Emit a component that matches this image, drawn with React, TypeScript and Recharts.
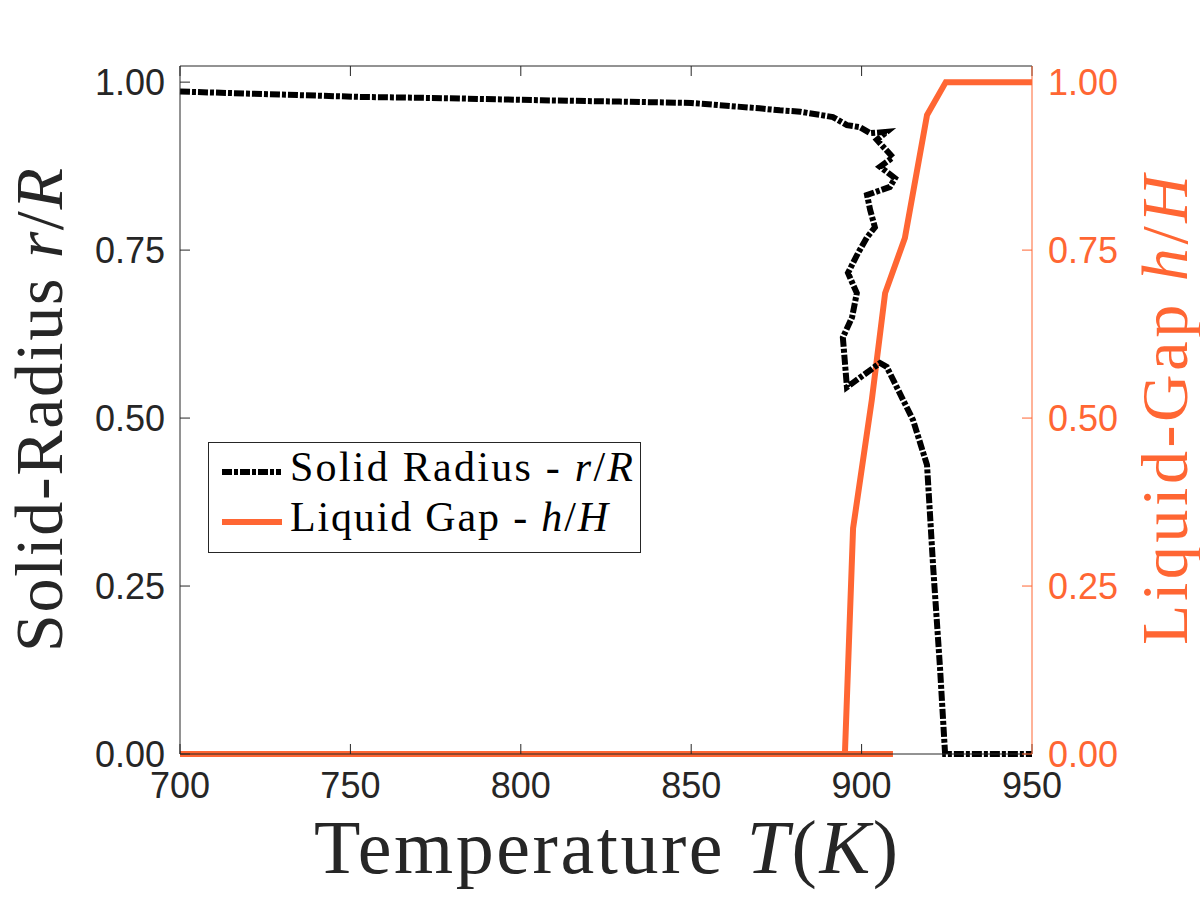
import { LineChart, Line, XAxis, YAxis, Legend } from "recharts";

const ORANGE = "#ff6633";
const INK = "#262626";
const SANS = "'Liberation Sans', Arial, sans-serif";
const SERIF = "'Liberation Serif', 'Times New Roman', serif";

// solid radius r/R vs temperature (path doubles back near 900 K)
const radiusT = [
  700, 726, 753, 779, 806, 829, 850, 870, 876, 882, 891.6, 895.7, 899.5, 902.5, 907.4, 904.5, 909.2, 905.4,
  909.8, 908.3, 901.6, 902.5, 903.9, 901.6, 899.0, 896.0, 898.6, 897.2, 894.5, 895.7, 905.4, 907.4, 915.1,
  919.2, 921.0, 923.0, 924.5, 950,
];
const radiusR = [
  0.986, 0.982, 0.978, 0.976, 0.973, 0.971, 0.969, 0.961, 0.958, 0.956, 0.948, 0.936, 0.933, 0.924, 0.926,
  0.914, 0.888, 0.874, 0.857, 0.844, 0.832, 0.81, 0.784, 0.769, 0.746, 0.716, 0.686, 0.65, 0.62, 0.546, 0.582,
  0.576, 0.497, 0.43, 0.278, 0.129, 0, 0,
];

// liquid gap h/H vs temperature
const gapT = [700, 909.2, 895.1, 897.5, 903.0, 906.9, 912.7, 919.2, 924.7, 950];
const gapH = [0, 0, 0, 0.336, 0.527, 0.686, 0.768, 0.951, 1, 1];

const xTicks = [700, 750, 800, 850, 900, 950];
const yTicks = [0, 0.25, 0.5, 0.75, 1];
const Y_MAX = 1.024;

const radiusData = radiusT.map((t, i) => ({ t, v: radiusR[i] }));
const gapData = gapT.map((t, i) => ({ t, v: gapH[i] }));

const DASH = "10 2 4 2";

function XTitle(props: any) {
  const vb = props.viewBox || { x: 180, y: 754, width: 852, height: 146 };
  return (
    <text
      x={vb.x + vb.width / 2}
      y={vb.y + 119}
      textAnchor="middle"
      fontFamily={SERIF}
      fontSize={76}
      fill={INK}
      textLength={584}
      lengthAdjust="spacing"
    >
      Temperature <tspan fontStyle="italic">T</tspan>(<tspan fontStyle="italic">K</tspan>)
    </text>
  );
}

function LeftTitle(props: any) {
  const vb = props.viewBox || { x: 0, y: 66, width: 180, height: 688 };
  const bx = vb.x + 62;
  const cy = vb.y + vb.height / 2;
  return (
    <text
      x={bx}
      y={cy}
      transform={`rotate(-90 ${bx} ${cy})`}
      textAnchor="middle"
      fontFamily={SERIF}
      fontSize={68}
      fill={INK}
      textLength={484}
      lengthAdjust="spacing"
    >
      Solid-Radius <tspan fontStyle="italic">r</tspan>/<tspan fontStyle="italic">R</tspan>
    </text>
  );
}

function RightTitle(props: any) {
  const vb = props.viewBox || { x: 1032, y: 66, width: 168, height: 688 };
  const bx = vb.x + 155;
  const cy = vb.y + vb.height / 2;
  return (
    <text
      x={bx}
      y={cy}
      transform={`rotate(-90 ${bx} ${cy})`}
      textAnchor="middle"
      fontFamily={SERIF}
      fontSize={66}
      fill={ORANGE}
      textLength={470}
      lengthAdjust="spacing"
    >
      Liquid-Gap <tspan fontStyle="italic">h</tspan>/<tspan fontStyle="italic">H</tspan>
    </text>
  );
}

function LegendBox() {
  return (
    <svg width={433} height={111} style={{ display: "block" }}>
      <rect x={0.5} y={0.5} width={432} height={110} fill="#fff" stroke={INK} strokeWidth={1} />
      <line x1={14} x2={73} y1={30} y2={30} stroke="#000" strokeWidth={6} strokeDasharray={DASH} />
      <text x={82} y={39} fontFamily={SERIF} fontSize={42} fill="#000" textLength={343} lengthAdjust="spacing">
        Solid Radius - <tspan fontStyle="italic">r</tspan>/<tspan fontStyle="italic">R</tspan>
      </text>
      <line x1={14} x2={74} y1={80} y2={80} stroke={ORANGE} strokeWidth={6} />
      <text x={82} y={89} fontFamily={SERIF} fontSize={42} fill="#000" textLength={318} lengthAdjust="spacing">
        Liquid Gap - <tspan fontStyle="italic">h</tspan>/<tspan fontStyle="italic">H</tspan>
      </text>
    </svg>
  );
}

export default function App() {
  return (
    <div style={{ position: "absolute", left: 0, top: 0, width: 1200, height: 900, background: "#fff" }}>
      <LineChart width={1200} height={900} margin={{ top: 56, right: 0, bottom: 0, left: 0 }}>
        <XAxis
          xAxisId="b"
          type="number"
          dataKey="t"
          orientation="bottom"
          domain={[700, 950]}
          ticks={xTicks}
          height={146}
          stroke={INK}
          tickSize={-10}
          tickMargin={28}
          tick={{ fill: INK, fontSize: 36, fontFamily: SANS }}
          label={{ content: XTitle }}
        />
        {/* top frame edge: same scale, inward ticks, blank labels */}
        <XAxis
          xAxisId="top"
          type="number"
          dataKey="t"
          orientation="top"
          domain={[700, 950]}
          ticks={xTicks}
          height={10}
          stroke={INK}
          tickSize={-10}
          tick={{ fill: INK, fontSize: 12 }}
          tickFormatter={() => ""}
        />
        <YAxis
          yAxisId="l"
          orientation="left"
          type="number"
          width={180}
          domain={[0, Y_MAX]}
          ticks={yTicks}
          tickFormatter={(v: number) => v.toFixed(2)}
          stroke={INK}
          tickSize={-10}
          tickMargin={25}
          tick={{ fill: INK, fontSize: 36, fontFamily: SANS }}
          label={{ content: LeftTitle }}
        />
        <YAxis
          yAxisId="r"
          orientation="right"
          type="number"
          width={168}
          domain={[0, Y_MAX]}
          ticks={yTicks}
          tickFormatter={(v: number) => v.toFixed(2)}
          stroke={ORANGE}
          tickSize={-10}
          tickMargin={26}
          tick={{ fill: ORANGE, fontSize: 36, fontFamily: SANS }}
          label={{ content: RightTitle }}
        />
        <Legend
          layout="horizontal"
          verticalAlign="middle"
          align="center"
          content={() => <LegendBox />}
          wrapperStyle={{ position: "absolute", left: 208, top: 442, width: 433, height: 111 }}
        />
        <Line
          xAxisId="top"
          yAxisId="r"
          data={gapData}
          dataKey="v"
          name="Liquid Gap"
          type="linear"
          stroke={ORANGE}
          strokeWidth={6}
          dot={false}
          activeDot={false}
          isAnimationActive={false}
        />
        <Line
          xAxisId="b"
          yAxisId="l"
          data={radiusData}
          dataKey="v"
          name="Solid Radius"
          type="linear"
          stroke="#000"
          strokeWidth={6}
          strokeDasharray={DASH}
          dot={false}
          activeDot={false}
          isAnimationActive={false}
        />
      </LineChart>
    </div>
  );
}
